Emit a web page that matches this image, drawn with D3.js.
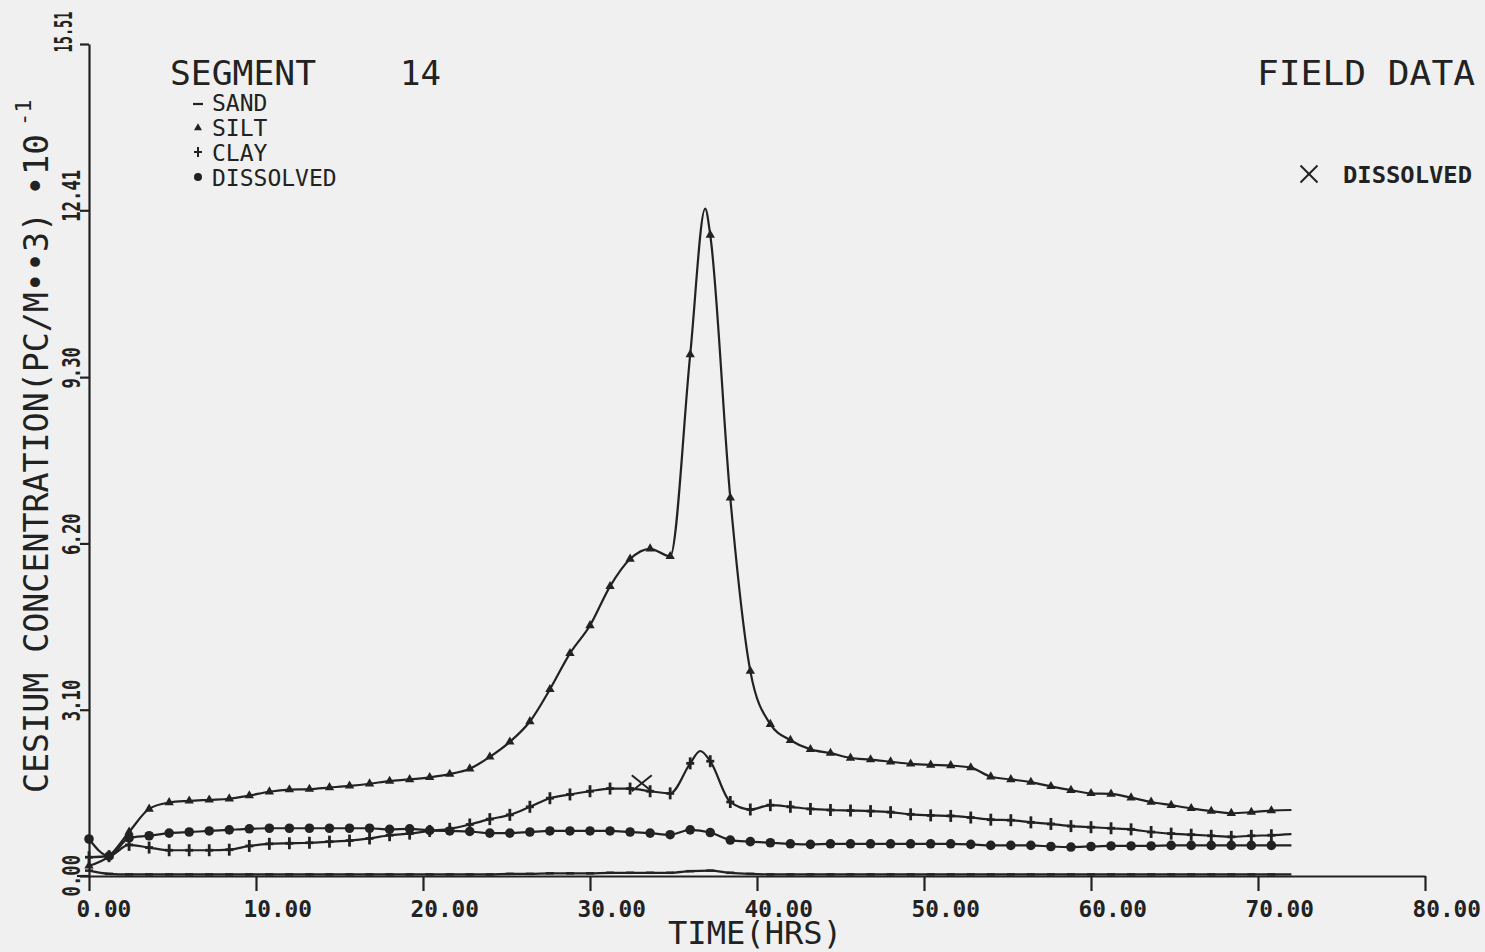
<!DOCTYPE html>
<html><head><meta charset="utf-8">
<script src="https://cdn.jsdelivr.net/npm/d3@7"></script>
<style>
html,body{margin:0;padding:0;background:#f0f0f0;}
svg{display:block;}
</style></head><body>
<svg id="c" width="1485" height="952"></svg>
<script>
// ---- data (time in hours, concentration in PC/M**3 * 10^-1) ----
const hours = [0, 1.2, 2.4, 3.6, 4.8, 6.0, 7.2, 8.4, 9.6, 10.8,
  12.0, 13.2, 14.4, 15.6, 16.8, 18.0, 19.2, 20.4, 21.6, 22.8,
  24.0, 25.2, 26.4, 27.6, 28.8, 30.0, 31.2, 32.4, 33.6, 34.8,
  36.0, 37.2, 38.4, 39.6, 40.8, 42.0, 43.2, 44.4, 45.6, 46.8,
  48.0, 49.2, 50.4, 51.6, 52.8, 54.0, 55.2, 56.4, 57.6, 58.8,
  60.0, 61.2, 62.4, 63.6, 64.8, 66.0, 67.2, 68.4, 69.6, 70.8, 72.0];

const sand = [0.10, 0.04, 0.03, 0.03, 0.03, 0.03, 0.03, 0.03, 0.03, 0.03,
  0.03, 0.03, 0.03, 0.03, 0.03, 0.03, 0.03, 0.03, 0.03, 0.03,
  0.03, 0.04, 0.04, 0.05, 0.05, 0.05, 0.06, 0.06, 0.06, 0.06,
  0.09, 0.10, 0.06, 0.04, 0.03, 0.03, 0.03, 0.03, 0.03, 0.03,
  0.03, 0.03, 0.03, 0.03, 0.03, 0.03, 0.03, 0.03, 0.03, 0.03,
  0.03, 0.03, 0.03, 0.03, 0.03, 0.03, 0.03, 0.03, 0.03, 0.03, 0.03];

const silt = [0.19, 0.37, 0.82, 1.25, 1.37, 1.40, 1.42, 1.44, 1.50, 1.57,
  1.61, 1.62, 1.65, 1.68, 1.72, 1.77, 1.80, 1.84, 1.90, 2.00,
  2.22, 2.50, 2.88, 3.48, 4.15, 4.67, 5.40, 5.91, 6.10, 5.96,
  9.72, 11.95, 7.05, 3.82, 2.83, 2.53, 2.36, 2.29, 2.20, 2.17,
  2.13, 2.09, 2.07, 2.06, 2.02, 1.85, 1.80, 1.75, 1.67, 1.60,
  1.54, 1.53, 1.46, 1.38, 1.32, 1.26, 1.21, 1.17, 1.19, 1.22, 1.23];
const siltPeakHours = [36.9];
const siltPeakValues = [12.44];

const clay = [0.35, 0.37, 0.58, 0.53, 0.48, 0.48, 0.48, 0.49, 0.56, 0.60,
  0.61, 0.62, 0.64, 0.66, 0.70, 0.76, 0.79, 0.84, 0.88, 0.96,
  1.06, 1.14, 1.29, 1.45, 1.52, 1.58, 1.63, 1.63, 1.58, 1.54,
  2.10, 2.14, 1.38, 1.24, 1.32, 1.29, 1.25, 1.23, 1.22, 1.21,
  1.19, 1.15, 1.13, 1.12, 1.09, 1.05, 1.04, 1.00, 0.97, 0.93,
  0.91, 0.89, 0.87, 0.82, 0.79, 0.77, 0.75, 0.73, 0.75, 0.76, 0.78];
const clayPeakHours = [36.6];
const clayPeakValues = [2.33];

const dissolved = [0.69, 0.37, 0.71, 0.75, 0.80, 0.82, 0.84, 0.86, 0.88, 0.89,
  0.89, 0.89, 0.89, 0.89, 0.89, 0.87, 0.88, 0.85, 0.84, 0.83,
  0.80, 0.80, 0.82, 0.84, 0.84, 0.84, 0.84, 0.82, 0.80, 0.77,
  0.86, 0.81, 0.67, 0.64, 0.62, 0.60, 0.59, 0.60, 0.60, 0.60,
  0.60, 0.60, 0.60, 0.60, 0.59, 0.57, 0.57, 0.57, 0.55, 0.54,
  0.55, 0.56, 0.56, 0.56, 0.57, 0.57, 0.57, 0.57, 0.57, 0.57, 0.57];

const fieldHours = [33.1];
const fieldDissolved = [1.73];

const xTicks = [0, 10, 20, 30, 40, 50, 60, 70, 80];
const xTickLabels = ["0.00", "10.00", "20.00", "30.00", "40.00", "50.00", "60.00", "70.00", "80.00"];
const yTicks = [0, 3.10, 6.20, 9.30, 12.41, 15.51];
const yTickLabels = ["0.00", "3.10", "6.20", "9.30", "12.41", "15.51"];
const legendNames = ["SAND", "SILT", "CLAY", "DISSOLVED"];

// ---- drawing ----
const ink = "#222";
const mono = "'DejaVu Sans Mono', monospace";
const svg = d3.select("#c");
const x = d3.scaleLinear().domain([0, 80]).range([89, 1425]);
const y = d3.scaleLinear().domain([0, 15.51]).range([876, 44]);

// x axis
const gx = svg.append("g").attr("transform", `translate(0,${y(0)})`).attr("color", ink)
  .call(d3.axisBottom(x).tickValues(xTicks).tickSize(15).tickSizeOuter(0)
    .tickFormat((d, i) => xTickLabels[i]));
gx.select(".domain").attr("stroke-width", 2.2);
gx.selectAll(".tick line").attr("stroke-width", 2.2);
gx.selectAll(".tick text").attr("fill", ink).attr("font-family", mono).attr("font-weight", "bold")
  .attr("font-size", 23).attr("text-anchor", "start").attr("x", -13).attr("y", 41).attr("dy", null)
  .attr("textLength", (d, i) => xTickLabels[i].length * 13.7).attr("lengthAdjust", "spacingAndGlyphs");
// left extension of the baseline
svg.append("line").attr("x1", 77).attr("x2", x(0)).attr("y1", y(0)).attr("y2", y(0))
  .attr("stroke", ink).attr("stroke-width", 2.2);

// y axis
const last = yTicks.length - 1;
const gy = svg.append("g").attr("transform", `translate(${x(0)},0)`).attr("color", ink)
  .call(d3.axisLeft(y).tickValues(yTicks).tickSize(9).tickSizeOuter(0)
    .tickFormat((d, i) => yTickLabels[i]));
gy.select(".domain").attr("stroke-width", 2.2);
gy.selectAll(".tick line").attr("stroke-width", 2.2);
gy.selectAll(".tick text").attr("fill", ink).attr("font-family", mono).attr("font-weight", "bold")
  .attr("font-size", 24).attr("text-anchor", "start").attr("dy", null)
  .attr("textLength", (d, i) => i === last ? 41 : yTickLabels[i].length * 10.4)
  .attr("lengthAdjust", "spacingAndGlyphs")
  .attr("transform", "rotate(-90)")
  .attr("x", (d, i) => i === 0 ? -20 : (i === last ? -8 : -11))
  .attr("y", (d, i) => i === last ? -17 : -9);

// axis titles
svg.append("text").attr("x", 668).attr("y", 944).attr("font-family", mono).attr("font-size", 32)
  .attr("fill", ink).attr("textLength", 174).attr("lengthAdjust", "spacingAndGlyphs").text("TIME(HRS)");

svg.append("text").attr("transform", "translate(48,793) rotate(-90)").attr("font-family", mono)
  .attr("font-size", 33).attr("fill", ink).attr("textLength", 581).attr("lengthAdjust", "spacingAndGlyphs")
  .text("CESIUM CONCENTRATION(PC/M\u2022\u20223)");
svg.append("text").attr("transform", "translate(48,196) rotate(-90)").attr("font-family", mono)
  .attr("font-size", 33).attr("fill", ink).attr("textLength", 62).attr("lengthAdjust", "spacingAndGlyphs")
  .text("\u202210");
svg.append("text").attr("transform", "translate(31,126) rotate(-90)").attr("font-family", mono)
  .attr("font-size", 22).attr("fill", ink).text("-1");

// series lines
const line = d3.line().x(d => x(d[0])).y(d => y(d[1])).curve(d3.curveMonotoneX);
function pts(vals, extraH, extraV) {
  const p = hours.map((h, i) => [h, vals[i]]);
  (extraH || []).forEach((h, i) => p.push([h, extraV[i]]));
  return p.sort((a, b) => a[0] - b[0]);
}
const series = [
  {name: "sand", pts: pts(sand)},
  {name: "dissolved", pts: pts(dissolved)},
  {name: "clay", pts: pts(clay, clayPeakHours, clayPeakValues)},
  {name: "silt", pts: pts(silt, siltPeakHours, siltPeakValues)}
];
svg.append("g").selectAll("path").data(series).join("path")
  .attr("d", d => line(d.pts)).attr("fill", "none").attr("stroke", ink).attr("stroke-width", 2.2);

// markers (at every sample except the final one)
const mk = hours.map((h, i) => i).filter(i => hours[i] < 72);
const gm = svg.append("g");
gm.selectAll(".sd").data(mk).join("line").attr("class", "sd")
  .attr("x1", i => x(hours[i]) - 4).attr("x2", i => x(hours[i]) + 4)
  .attr("y1", i => y(sand[i])).attr("y2", i => y(sand[i])).attr("stroke", ink).attr("stroke-width", 2.5);
gm.selectAll(".ds").data(mk).join("circle").attr("class", "ds")
  .attr("cx", i => x(hours[i])).attr("cy", i => y(dissolved[i])).attr("r", 4.8).attr("fill", ink);
const tri = d3.symbol(d3.symbolTriangle).size(38);
gm.selectAll(".st").data(mk).join("path").attr("class", "st")
  .attr("transform", i => `translate(${x(hours[i])},${y(silt[i])})`).attr("d", tri()).attr("fill", ink);
gm.selectAll(".cv").data(mk).join("line").attr("class", "cv")
  .attr("x1", i => x(hours[i])).attr("x2", i => x(hours[i]))
  .attr("y1", i => y(clay[i]) - 6).attr("y2", i => y(clay[i]) + 6).attr("stroke", ink).attr("stroke-width", 2.8);
gm.selectAll(".ch").data(mk).join("line").attr("class", "ch")
  .attr("x1", i => x(hours[i]) - 4).attr("x2", i => x(hours[i]) + 4)
  .attr("y1", i => y(clay[i])).attr("y2", i => y(clay[i])).attr("stroke", ink).attr("stroke-width", 2.8);

// field data crosses
function cross(g, cx, cy, w, h) {
  g.append("line").attr("x1", cx - w / 2).attr("y1", cy - h / 2).attr("x2", cx + w / 2).attr("y2", cy + h / 2)
    .attr("stroke", ink).attr("stroke-width", 2);
  g.append("line").attr("x1", cx - w / 2).attr("y1", cy + h / 2).attr("x2", cx + w / 2).attr("y2", cy - h / 2)
    .attr("stroke", ink).attr("stroke-width", 2);
}
fieldHours.forEach((h, i) => cross(svg.append("g"), x(h), y(fieldDissolved[i]), 20, 16));

// header texts
svg.append("text").attr("x", 170).attr("y", 85).attr("font-family", mono).attr("font-size", 34)
  .attr("fill", ink).attr("textLength", 146).attr("lengthAdjust", "spacingAndGlyphs").text("SEGMENT");
svg.append("text").attr("x", 400).attr("y", 85).attr("font-family", mono).attr("font-size", 34)
  .attr("fill", ink).text("14");
svg.append("text").attr("x", 1257).attr("y", 85).attr("font-family", mono).attr("font-size", 34)
  .attr("fill", ink).attr("textLength", 218).attr("lengthAdjust", "spacingAndGlyphs").text("FIELD DATA");

// legend
const lg = svg.append("g");
const ly = [111, 136, 161, 186];
lg.selectAll("text").data(legendNames).join("text").attr("x", 212).attr("y", (d, i) => ly[i])
  .attr("font-family", mono).attr("font-size", 23).attr("fill", ink).text(d => d);
lg.append("line").attr("x1", 193).attr("x2", 203).attr("y1", 104).attr("y2", 104).attr("stroke", ink).attr("stroke-width", 2.2);
lg.append("path").attr("transform", "translate(198,128)").attr("d", d3.symbol(d3.symbolTriangle).size(28)()).attr("fill", ink);
lg.append("line").attr("x1", 198).attr("x2", 198).attr("y1", 147).attr("y2", 157).attr("stroke", ink).attr("stroke-width", 2);
lg.append("line").attr("x1", 194).attr("x2", 202).attr("y1", 152).attr("y2", 152).attr("stroke", ink).attr("stroke-width", 2);
lg.append("circle").attr("cx", 198).attr("cy", 177).attr("r", 4).attr("fill", ink);

// field-data key
cross(svg.append("g"), 1309, 174, 17, 17);
svg.append("text").attr("x", 1343).attr("y", 183).attr("font-family", mono).attr("font-size", 23)
  .attr("font-weight", "bold").attr("fill", ink).attr("textLength", 129).attr("lengthAdjust", "spacingAndGlyphs")
  .text("DISSOLVED");
</script>
</body></html>
